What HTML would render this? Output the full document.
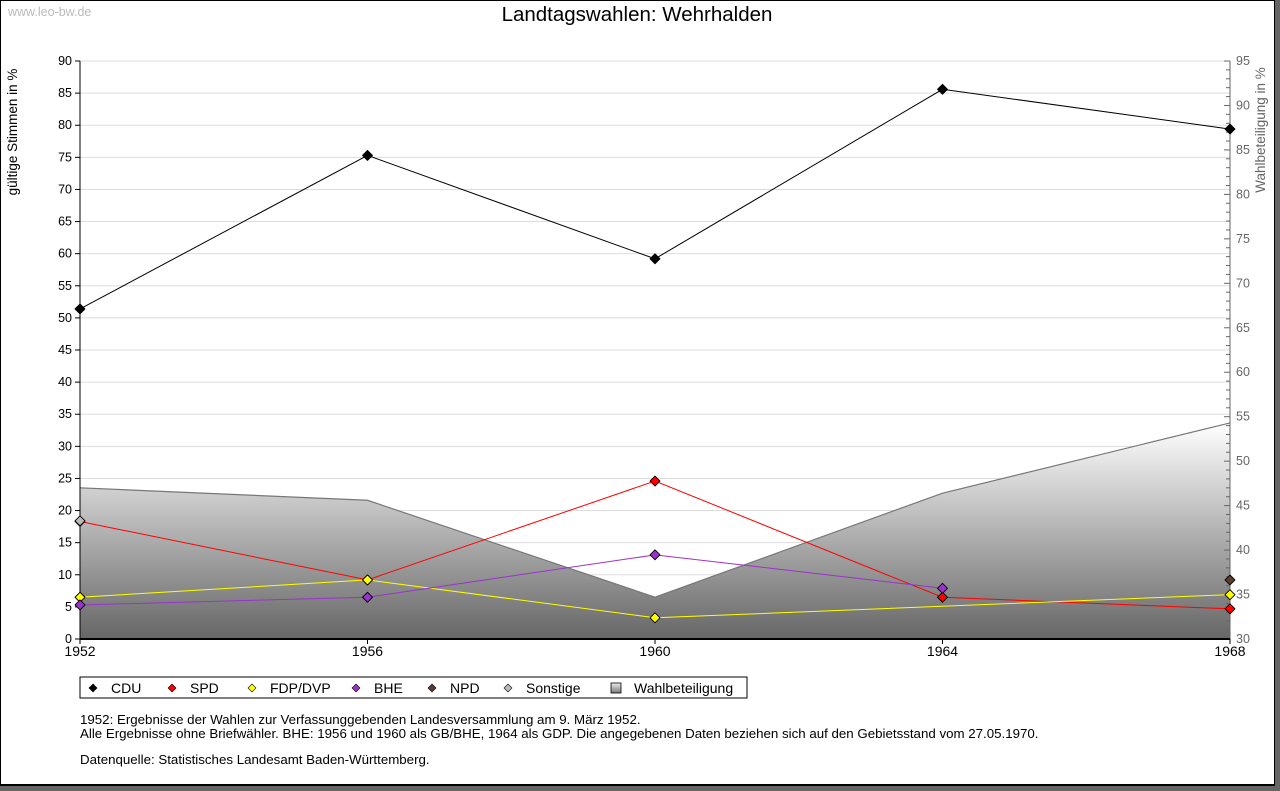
<!DOCTYPE html>
<html><head><meta charset="utf-8"><style>
body{margin:0;width:1280px;height:791px;background:#666;overflow:hidden;font-family:"Liberation Sans","DejaVu Sans",sans-serif}
#frame{position:absolute;left:0;top:0;width:1273px;height:783px;background:#fff;border:1px solid #000;border-bottom-width:2px}
</style></head><body>
<div id="frame"></div>
<svg id="c" width="1280" height="791" style="position:absolute;left:0;top:0" font-family="Liberation Sans, DejaVu Sans, sans-serif">
<defs><linearGradient id="g" x1="0" y1="0" x2="0" y2="1"><stop offset="0" stop-color="#fff"/><stop offset="1" stop-color="#666"/></linearGradient>
<linearGradient id="gl" x1="0" y1="0" x2="0" y2="1"><stop offset="0" stop-color="#eee"/><stop offset="1" stop-color="#777"/></linearGradient></defs>
<text x="8" y="16" font-size="12.5" fill="#bbb">www.leo-bw.de</text>
<text x="637" y="21" font-size="20.5" text-anchor="middle">Landtagswahlen: Wehrhalden</text>
<text transform="translate(17,132) rotate(-90)" font-size="13.5" text-anchor="middle">gültige Stimmen in %</text>
<text transform="translate(1265,130) rotate(-90)" font-size="13.5" fill="#666" text-anchor="middle">Wahlbeteiligung in %</text>
<g id="plot"></g>
<rect x="80" y="677" width="667" height="21" fill="#fff" stroke="#000"/>
<g id="leg"></g>
<g font-size="13.3">
<text x="80" y="724">1952: Ergebnisse der Wahlen zur Verfassunggebenden Landesversammlung am 9. März 1952.</text>
<text x="80" y="738">Alle Ergebnisse ohne Briefwähler. BHE: 1956 und 1960 als GB/BHE, 1964 als GDP. Die angegebenen Daten beziehen sich auf den Gebietsstand vom 27.05.1970.</text>
<text x="80" y="764">Datenquelle: Statistisches Landesamt Baden-Württemberg.</text>
</g>
</svg>
<script>
const years=[1952,1956,1960,1964,1968];
const cdu=[51.4,75.3,59.2,85.6,79.4];
const spd=[18.3,9.2,24.6,6.5,4.7];
const fdp=[6.5,9.2,3.3,null,6.9];
const bhe=[5.3,6.5,13.1,7.9,null];
const npd=[null,null,null,null,9.2];
const sonst=[18.4,null,null,null,null];
const turnout=[47.0,45.6,34.7,46.4,54.3];
const leftTicks=[0,5,10,15,20,25,30,35,40,45,50,55,60,65,70,75,80,85,90];
const rightTicks=[30,35,40,45,50,55,60,65,70,75,80,85,90,95];
const X0=80,X1=1230,Y0=639,Y1=61;
const xs=y=>X0+(y-1952)/(1968-1952)*(X1-X0);
const yl=v=>Y0-v/90*(Y0-Y1);
const yr=v=>Y0-(v-30)/65*(Y0-Y1);
const NS='http://www.w3.org/2000/svg';
const P=document.getElementById('plot');
function mk(t,a,p){const e=document.createElementNS(NS,t);for(const k in a)e.setAttribute(k,a[k]);(p||P).appendChild(e);return e;}
leftTicks.forEach(v=>{if(v>0){const g=mk('line',{x1:X0,x2:X1,y1:yl(v),y2:yl(v),stroke:'#ddd'});

}
mk('line',{x1:X0-5,x2:X0,y1:yl(v),y2:yl(v),stroke:'#000'});
const t=mk('text',{x:X0-8,y:yl(v)+4,'font-size':12.5,'text-anchor':'end'});t.textContent=v;

});
let d='M'+X0+','+Y0;years.forEach((y,i)=>d+=' L'+xs(y)+','+yr(turnout[i]));d+=' L'+X1+','+Y0+'Z';
const ar=mk('path',{d:d,fill:'url(#g)'});


let dl='';years.forEach((y,i)=>dl+=(i?' L':'M')+xs(y)+','+yr(turnout[i]));
mk('path',{d:dl,fill:'none',stroke:'#777','stroke-width':1.2});
mk('line',{x1:X1,x2:X1,y1:Y1,y2:Y0,stroke:'#666'});
for(let v=30;v<=95;v++){const big=v%5==0;mk('line',{x1:X1-(big?6:4),x2:X1,y1:yr(v),y2:yr(v),stroke:'#666'});}
rightTicks.forEach(v=>{const t=mk('text',{x:X1+6,y:yr(v)+4,'font-size':12.5,fill:'#666'});t.textContent=v;

});
mk('line',{x1:X0,x2:X0,y1:Y1,y2:Y0,stroke:'#000'});
mk('line',{x1:X0,x2:X1,y1:Y0,y2:Y0,stroke:'#000','stroke-width':2});
years.forEach(y=>{mk('line',{x1:xs(y),x2:xs(y),y1:Y0,y2:Y0+5,stroke:'#000'});
const t=mk('text',{x:xs(y),y:Y0+17,'font-size':14,'text-anchor':'middle'});t.textContent=y;

});
function series(arr,col,name,line){
 const pts=[];arr.forEach((v,i)=>{if(v!=null)pts.push([xs(years[i]),yl(v)]);});
 if(line&&pts.length>1){const l=mk('polyline',{points:pts.map(p=>p.join(',')).join(' '),fill:'none',stroke:col,'stroke-width':1});
 
 }
 pts.forEach(p=>{const m=mk('path',{d:`M${p[0]},${p[1]-5} L${p[0]+5},${p[1]} L${p[0]},${p[1]+5} L${p[0]-5},${p[1]}Z`,fill:col,stroke:'#000','stroke-width':0.9,'stroke-linejoin':'round'});
 
 });
}
series(cdu,'#000','cdu',true);
series(spd,'#f00','spd',true);
series(fdp,'#ff0','fdp',true);
series(bhe,'#93c','bhe',true);
series(npd,'#5a3d2b','npd',false);
series(sonst,'#bbb','sonstige',false);
const L=document.getElementById('leg');
const legs=[['CDU','#000',93],['SPD','#f00',172],['FDP/DVP','#ff0',252],['BHE','#93c',356],['NPD','#5a3d2b',432],['Sonstige','#bbb',508]];
legs.forEach(([n,c,x])=>{mk('path',{d:`M${x},${684} L${x+4},${688} L${x},${692} L${x-4},${688}Z`,fill:c,stroke:'#000','stroke-width':0.6},L);
const t=mk('text',{x:x+18,y:693,'font-size':14},L);t.textContent=n;

});
mk('rect',{x:611,y:683,width:10,height:10,fill:'url(#gl)',stroke:'#000','stroke-width':0.8},L);
const tw=mk('text',{x:634,y:693,'font-size':14},L);tw.textContent='Wahlbeteiligung';


</script>
</body></html>
